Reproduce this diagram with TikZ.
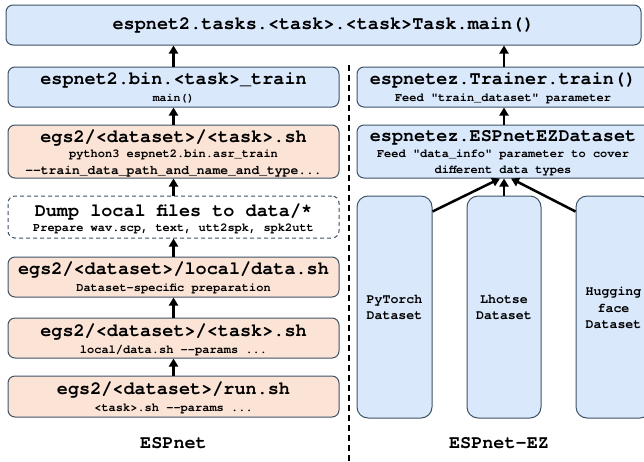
\documentclass[tikz,border=0pt]{standalone}
\usepackage{fontspec}
\setmonofont{texgyrecursor-regular.otf}[BoldFont=texgyrecursor-bold.otf]
\usetikzlibrary{arrows.meta}
\definecolor{bfill}{HTML}{DAE8FC}
\definecolor{ofill}{HTML}{FBE3D6}
\definecolor{edgec}{HTML}{3E5266}
\begin{document}
\begin{tikzpicture}[x=1pt,y=-1pt,
 box/.style={draw=edgec, line width=1pt, rounded corners=7pt, inner sep=0pt},
 bbox/.style={box, fill=bfill},
 obox/.style={box, fill=ofill},
 dbox/.style={box, fill=white, dash pattern=on 4pt off 3pt},
 dsbox/.style={bbox, rounded corners=11pt},
 ttl/.style={font=\ttfamily\bfseries\fontsize{18.5}{20}\selectfont, inner sep=0pt},
 sub/.style={font=\ttfamily\bfseries\fontsize{12}{16.5}\selectfont, inner sep=0pt, align=center},
 dsl/.style={font=\ttfamily\bfseries\fontsize{13.3}{16.5}\selectfont, inner sep=0pt, align=center},
 arr/.style={-{Triangle[length=8pt,width=9pt]}, line width=2.5pt},
 sep/.style={line width=1.5pt, dash pattern=on 6pt off 4pt},
]
\useasboundingbox (0,0) rectangle (644,461);
\clip (0,0) rectangle (644,461);

% top
\node[bbox, minimum width=635pt, minimum height=40pt] (top) at (323.5,25) {};
\node[ttl] (topt) at (323.5,25) {espnet2.tasks.<task>.<task>Task.main()};

% left column
\node[bbox, minimum width=331pt, minimum height=40pt] (l1) at (173.5,87) {};
\node[ttl] (l1t) at (173.5,80) {espnet2.bin.<task>\_train};
\node[sub, font=\ttfamily\bfseries\fontsize{11.5}{14}\selectfont] (l1s) at (173.5,99) {main()};

\node[obox, minimum width=331pt, minimum height=53pt] (l2) at (173.5,151.5) {};
\node[ttl] (l2t) at (173.5,138) {egs2/<dataset>/<task>.sh};
\node[sub] (l2s) at (173.5,155) {python3 espnet2.bin.asr\_train};
\node[sub, font=\ttfamily\bfseries\fontsize{13}{16}\selectfont] (l2u) at (173.5,172) {--train\_data\_path\_and\_name\_and\_type...};

\node[dbox, minimum width=331pt, minimum height=42pt] (l3) at (173.5,217) {};
\node[ttl] (l3t) at (173.5,212) {Dump local files to data/*};
\node[sub] (l3s) at (173.5,229) {Prepare wav.scp, text, utt2spk, spk2utt};

\node[obox, minimum width=331pt, minimum height=40pt] (l4) at (173.5,277) {};
\node[ttl] (l4t) at (173.5,270) {egs2/<dataset>/local/data.sh};
\node[sub] (l4s) at (173.5,289) {Dataset-specific preparation};

\node[obox, minimum width=331pt, minimum height=40pt] (l5) at (173.5,338) {};
\node[ttl] (l5t) at (173.5,332) {egs2/<dataset>/<task>.sh};
\node[sub] (l5s) at (173.5,351) {local/data.sh --params ...};

\node[obox, minimum width=331pt, minimum height=41pt] (l6) at (173.5,396.5) {};
\node[ttl] (l6t) at (173.5,390) {egs2/<dataset>/run.sh};
\node[sub] (l6s) at (173.5,409) {<task>.sh --params ...};

\node[ttl] (lblL) at (173.5,443) {ESPnet};

% right column
\node[bbox, minimum width=294pt, minimum height=40pt] (r1) at (504,87) {};
\node[ttl] (r1t) at (503,80) {espnetez.Trainer.train()};
\node[sub] (r1s) at (503,99) {Feed "train\_dataset" parameter};

\node[bbox, minimum width=294pt, minimum height=53pt] (r2) at (504,151.5) {};
\node[ttl] (r2t) at (503,138) {espnetez.ESPnetEZDataset};
\node[sub] (r2s) at (503,155) {Feed "data\_info" parameter to cover};
\node[sub] (r2u) at (503,171) {different data types};

\node[dsbox, minimum width=75pt, minimum height=222pt] (d1) at (394.5,307) {};
\node[dsl] (d1t) at (394.5,307.5) {PyTorch\\Dataset};
\node[dsbox, minimum width=74pt, minimum height=222pt] (d2) at (504,307) {};
\node[dsl] (d2t) at (504,307.5) {Lhotse\\Dataset};
\node[dsbox, minimum width=75pt, minimum height=222pt] (d3) at (613.5,307) {};
\node[dsl] (d3t) at (613.5,308) {Hugging\\face\\Dataset};

\node[ttl] (lblR) at (499,443) {ESPnet-EZ};

% separator
\coordinate (stop) at (349,65);
\coordinate (sbot) at (349,461);
\draw[sep] (stop) -- (sbot);

% arrows
\draw[arr] (l1.north) -- (l1.north |- top.south);
\draw[arr] (r1.north) -- (r1.north |- top.south);
\draw[arr] (l2.north) -- (l1.south);
\draw[arr] (l3.north) -- (l2.south);
\draw[arr] (l4.north) -- (l3.south);
\draw[arr] (l5.north) -- (l4.south);
\draw[arr] (l6.north) -- (l5.south);
\draw[arr] (r2.north) -- (r1.south);
\draw[arr] ([yshift=-16pt]d1.north east) -- ([xshift=-4pt]r2.south);
\draw[arr] (d2.north) -- (r2.south);
\draw[arr] ([yshift=-16pt]d3.north west) -- ([xshift=7pt]r2.south);
\end{tikzpicture}
\end{document}
